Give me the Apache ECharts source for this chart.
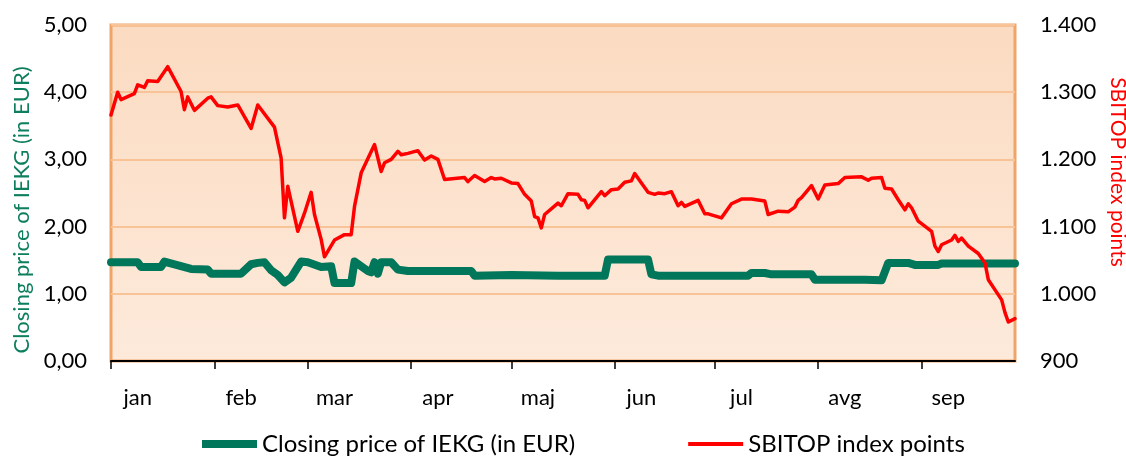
<!DOCTYPE html>
<html>
<head>
<meta charset="utf-8">
<script src="https://cdn.jsdelivr.net/npm/echarts@6/dist/echarts.min.js"></script>
<style>
  html, body { margin: 0; padding: 0; background: #fff; }
  #main { width: 1126px; height: 457px; }
</style>
</head>
<body>
<div id="main"></div>
<script>
// month labels (Slovenian)
var monthNames = ['jan', 'feb', 'mar', 'apr', 'maj', 'jun', 'jul', 'avg', 'sep']

// IEKG closing price (EUR)
var iekgDates = ['2022-01-01', '2022-01-09', '2022-01-10', '2022-01-16', '2022-01-17', '2022-01-25', '2022-01-30',
  '2022-01-31', '2022-02-09', '2022-02-12', '2022-02-14', '2022-02-16', '2022-02-18', '2022-02-20', '2022-02-22',
  '2022-02-24', '2022-02-27', '2022-03-01', '2022-03-05', '2022-03-08', '2022-03-09', '2022-03-14', '2022-03-15',
  '2022-03-19', '2022-03-20', '2022-03-21', '2022-03-22', '2022-03-23', '2022-03-26', '2022-03-28', '2022-03-31',
  '2022-04-19', '2022-04-20', '2022-05-01', '2022-05-15', '2022-05-29', '2022-05-30', '2022-06-11', '2022-06-12',
  '2022-06-14', '2022-07-11', '2022-07-12', '2022-07-16', '2022-07-18', '2022-07-30', '2022-07-31', '2022-08-15',
  '2022-08-20', '2022-08-22', '2022-08-28', '2022-08-30', '2022-09-06', '2022-09-07', '2022-09-29']
var iekgPrices = [1.47, 1.47, 1.40, 1.40, 1.48, 1.37, 1.36,
  1.30, 1.30, 1.44, 1.46, 1.47, 1.35, 1.28, 1.17,
  1.24, 1.48, 1.47, 1.40, 1.41, 1.16, 1.16, 1.48,
  1.34, 1.32, 1.47, 1.30, 1.47, 1.47, 1.36, 1.34,
  1.34, 1.27, 1.28, 1.27, 1.27, 1.51, 1.51, 1.29,
  1.27, 1.27, 1.31, 1.31, 1.29, 1.29, 1.21, 1.21,
  1.20, 1.46, 1.46, 1.43, 1.43, 1.45, 1.45]

// SBITOP index points
var sbiDates = ['2022-01-01', '2022-01-03', '2022-01-04', '2022-01-08', '2022-01-09', '2022-01-11', '2022-01-12',
  '2022-01-15', '2022-01-18', '2022-01-22', '2022-01-23', '2022-01-24', '2022-01-26', '2022-01-30', '2022-01-31',
  '2022-02-02', '2022-02-05', '2022-02-08', '2022-02-12', '2022-02-14', '2022-02-19', '2022-02-21', '2022-02-22',
  '2022-02-23', '2022-02-26', '2022-02-28', '2022-03-02', '2022-03-03', '2022-03-05', '2022-03-06', '2022-03-09',
  '2022-03-12', '2022-03-14', '2022-03-15', '2022-03-17', '2022-03-21', '2022-03-23', '2022-03-24', '2022-03-26',
  '2022-03-28', '2022-03-29', '2022-03-31', '2022-04-03', '2022-04-05', '2022-04-07', '2022-04-09', '2022-04-11',
  '2022-04-17', '2022-04-18', '2022-04-20', '2022-04-23', '2022-04-25', '2022-04-26', '2022-04-28', '2022-05-01',
  '2022-05-03', '2022-05-05', '2022-05-07', '2022-05-08', '2022-05-09', '2022-05-10', '2022-05-11', '2022-05-15',
  '2022-05-16', '2022-05-18', '2022-05-21', '2022-05-22', '2022-05-23', '2022-05-24', '2022-05-28', '2022-05-29',
  '2022-05-31', '2022-06-02', '2022-06-04', '2022-06-06', '2022-06-07', '2022-06-09', '2022-06-11', '2022-06-13',
  '2022-06-14', '2022-06-16', '2022-06-18', '2022-06-20', '2022-06-21', '2022-06-22', '2022-06-26', '2022-06-28',
  '2022-06-29', '2022-07-03', '2022-07-06', '2022-07-09', '2022-07-12', '2022-07-16', '2022-07-17', '2022-07-20',
  '2022-07-23', '2022-07-25', '2022-07-26', '2022-07-27', '2022-07-30', '2022-08-01', '2022-08-03', '2022-08-07',
  '2022-08-09', '2022-08-14', '2022-08-16', '2022-08-17', '2022-08-20', '2022-08-21', '2022-08-23', '2022-08-25',
  '2022-08-27', '2022-08-28', '2022-08-29', '2022-08-31', '2022-09-04', '2022-09-05', '2022-09-06', '2022-09-07',
  '2022-09-10', '2022-09-11', '2022-09-12', '2022-09-13', '2022-09-15', '2022-09-18', '2022-09-20', '2022-09-21',
  '2022-09-25', '2022-09-26', '2022-09-27', '2022-09-29']
var sbiPoints = [1266, 1300, 1289, 1298, 1311, 1307, 1317,
  1316, 1338, 1301, 1274, 1293, 1273, 1291, 1293,
  1280, 1278, 1281, 1246, 1281, 1248, 1202, 1113,
  1160, 1093, 1120, 1151, 1118, 1081, 1055, 1080,
  1088, 1088, 1130, 1180, 1222, 1182, 1195, 1200,
  1212, 1207, 1209, 1213, 1199, 1205, 1200, 1170,
  1173, 1167, 1176, 1167, 1173, 1171, 1172, 1165,
  1164, 1148, 1138, 1115, 1113, 1098, 1118, 1135,
  1131, 1149, 1148, 1140, 1139, 1128, 1152, 1146,
  1155, 1156, 1166, 1168, 1179, 1165, 1151, 1148,
  1150, 1149, 1152, 1131, 1136, 1130, 1139, 1119,
  1119, 1113, 1134, 1141, 1141, 1138, 1118, 1123,
  1122, 1129, 1139, 1143, 1161, 1141, 1162, 1164,
  1173, 1174, 1169, 1172, 1173, 1157, 1156, 1140,
  1125, 1134, 1128, 1108, 1093, 1071, 1063, 1073,
  1080, 1087, 1078, 1083, 1071, 1060, 1046, 1021,
  991, 972, 958, 963]

// every calendar day on the axis, Jan 1 - Sep 29
var days = []
for (var t = Date.UTC(2022, 0, 1); t <= Date.UTC(2022, 8, 29); t += 864e5) {
  days.push(new Date(t).toISOString().slice(0, 10))
}

var font = 'Lato'
var myChart = echarts.init(document.getElementById('main'))

var option = {
  animation: false,
  textStyle: { fontFamily: font },
  grid: {
    left: 111, right: 111, top: 25, bottom: 96,
    outerBoundsMode: 'none',
    show: true,
    borderColor: '#F0A468',
    borderWidth: 3,
    backgroundColor: {
      type: 'linear', x: 0, y: 0, x2: 0, y2: 1,
      colorStops: [{ offset: 0, color: '#FBDBC1' }, { offset: 1, color: '#FDEADB' }]
    }
  },
  legend: {
    left: 197,
    top: 427,
    itemWidth: 55,
    itemHeight: 8,
    itemGap: 113,
    textStyle: { fontFamily: font, fontSize: 24, color: '#000' },
    data: [
      { name: 'Closing price of IEKG (in EUR)', icon: 'path://M0,0L55,0L55,8L0,8Z' },
      { name: 'SBITOP index points', icon: 'path://M0,0L55,0L55,4L0,4Z' }
    ]
  },
  xAxis: {
    type: 'category',
    data: days,
    boundaryGap: false,
    axisLine: { lineStyle: { color: '#000', width: 2 } },
    axisTick: {
      length: 8,
      lineStyle: { color: '#000', width: 1.5 },
      interval: function (i, v) { return v.slice(8) === '01' }
    },
    axisLabel: {
      interval: function (i, v) { return v.slice(8) === '09' },
      formatter: function (v) { return monthNames[+v.slice(5, 7) - 1] },
      fontFamily: font,
      fontSize: 22,
      color: '#000',
      margin: 26
    },
    splitLine: { show: false }
  },
  yAxis: [{
    type: 'value',
    min: 0, max: 5, interval: 1,
    name: 'Closing price of IEKG (in EUR)',
    nameLocation: 'middle',
    nameGap: 78,
    nameTextStyle: { fontFamily: font, fontSize: 22, color: '#0E7F5E', padding: [0, 34, 0, 0] },
    axisLine: { show: false },
    axisTick: { show: false },
    axisLabel: {
      fontFamily: font, fontSize: 22, color: '#000', margin: 24,
      formatter: function (v) { return v.toFixed(2).replace('.', ',') }
    },
    splitLine: { lineStyle: { color: '#F8C497', width: 2 } }
  }, {
    type: 'value',
    min: 900, max: 1400, interval: 100,
    name: 'SBITOP index points',
    nameLocation: 'middle',
    nameGap: 92,
    nameRotate: -90,
    nameTextStyle: { fontFamily: font, fontSize: 21, color: '#FF0000', padding: [0, 42, 0, 0] },
    axisLine: { show: false },
    axisTick: { show: false },
    axisLabel: {
      fontFamily: font, fontSize: 22, color: '#000', margin: 25,
      formatter: function (v) { return v >= 1000 ? Math.floor(v / 1000) + '.' + String(v % 1000).padStart(3, '0') : String(v) }
    },
    splitLine: { show: false }
  }],
  series: [{
    name: 'Closing price of IEKG (in EUR)',
    type: 'line',
    yAxisIndex: 0,
    symbol: 'none',
    lineStyle: { color: '#00765A', width: 8, cap: 'round', join: 'round' },
    itemStyle: { color: '#00765A' },
    data: iekgDates.map(function (d, i) { return [d, iekgPrices[i]] })
  }, {
    name: 'SBITOP index points',
    type: 'line',
    yAxisIndex: 1,
    symbol: 'none',
    lineStyle: { color: '#FF0000', width: 3.5, cap: 'round', join: 'round' },
    itemStyle: { color: '#FF0000' },
    data: sbiDates.map(function (d, i) { return [d, sbiPoints[i]] })
  }]
}

myChart.setOption(option)
</script>
</body>
</html>
